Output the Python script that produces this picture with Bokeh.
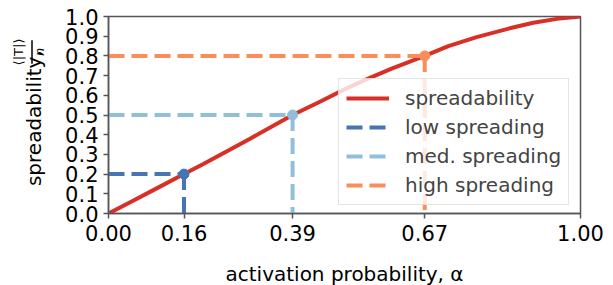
import math
from bokeh.plotting import figure
from bokeh.layouts import row, column
from bokeh.core.properties import value
from bokeh.models import FixedTicker, NumeralTickFormatter, Legend, LegendItem, Range1d
from bokeh.embed import file_html
from bokeh.resources import INLINE

# curve data
alpha = [0.0, 0.05, 0.10, 0.16, 0.20, 0.25, 0.30, 0.39, 0.45, 0.50, 0.55, 0.60, 0.67, 0.72, 0.78, 0.85, 0.90, 0.95, 1.00]
spread = [0.0, 0.062, 0.125, 0.20, 0.25, 0.315, 0.38, 0.50, 0.57, 0.63, 0.685, 0.735, 0.80, 0.85, 0.895, 0.94, 0.968, 0.988, 1.00]

# reference points
levels = ["low spreading", "med. spreading", "high spreading"]
level_alpha = [0.16, 0.39, 0.67]
level_value = [0.2, 0.5, 0.8]
level_colors = ["#4575b4", "#91bfdb", "#fc8d59"]
curve_color = "#d73027"

x_ticks = [0.0, 0.16, 0.39, 0.67, 1.0]
y_ticks = [0.0, 0.1, 0.2, 0.3, 0.4, 0.5, 0.6, 0.7, 0.8, 0.9, 1.0]

y_label_text = "spreadability,"
y_label_num = "⟨|T|⟩"
y_label_den = "n"
x_label_text = "activation probability, α"

FONT = "DejaVu Sans"
TICK_FS = "21px"
LABEL_FS = "20px"
TOP_H = 250      # height of the row holding the plot
BOT_H = 35       # height of the strip holding the x-axis title
LAB_W = 60       # width of the strip holding the y-axis title


def bare(w, h):
    f = figure(output_backend="svg", toolbar_location=None, width=w, height=h,
               x_range=Range1d(0, w), y_range=Range1d(0, h),
               x_axis_location=None, y_axis_location=None,
               min_border=0, min_border_left=0, min_border_right=0,
               min_border_top=0, min_border_bottom=0)
    f.grid.visible = False
    f.outline_line_color = None
    return f


# ---- y-axis title strip (pixel coordinates, y measured from the bottom) ----
lab = bare(LAB_W, TOP_H)
lab.text(x=[33], y=[TOP_H - 129], text=[y_label_text], angle=math.pi / 2,
         text_align="center", text_baseline="middle",
         text_font=value(FONT), text_font_size=LABEL_FS, text_color="black")
lab.text(x=[18], y=[TOP_H - 45], text=[y_label_num], angle=math.pi / 2,
         text_align="center", text_baseline="middle",
         text_font=value(FONT), text_font_size="13px", text_color="black")
lab.text(x=[39], y=[TOP_H - 45], text=[y_label_den], angle=math.pi / 2,
         text_align="center", text_baseline="middle",
         text_font=value(FONT), text_font_size="13px", text_font_style="italic",
         text_color="black")
lab.line(x=[31.5, 31.5], y=[TOP_H - 30, TOP_H - 60], line_color="black", line_width=1.5)

# ---- main plot ----
p = figure(output_backend="svg", toolbar_location=None,
           width=553, height=TOP_H,
           min_border_left=48, min_border_right=33, min_border_top=16, min_border_bottom=37,
           x_range=Range1d(0, 1), y_range=Range1d(0, 1))

p.xgrid.visible = False
p.ygrid.visible = False
p.outline_line_color = "#555555"
p.outline_line_width = 1.5

curve = p.line(alpha, spread, line_color=curve_color, line_width=4)

items = [LegendItem(label="spreadability", renderers=[curve])]
for name, a, v, c in zip(levels, level_alpha, level_value, level_colors):
    h = p.line([0, a], [v, v], line_color=c, line_width=4, line_dash="16 7")
    p.line([a, a], [v, 0], line_color=c, line_width=4, line_dash="16 7")
    p.scatter([a], [v], size=10, color=c)
    items.append(LegendItem(label=name, renderers=[h]))

for ax in (p.xaxis[0], p.yaxis[0]):
    ax.axis_line_color = "#555555"
    ax.axis_line_width = 1.5
    ax.major_tick_line_color = "#555555"
    ax.major_tick_line_width = 1.5
    ax.major_tick_out = 5
    ax.major_tick_in = 0
    ax.minor_tick_line_color = None
    ax.major_label_text_font = FONT
    ax.major_label_text_font_size = TICK_FS
    ax.major_label_text_color = "black"

p.xaxis.ticker = FixedTicker(ticks=x_ticks)
p.xaxis.formatter = NumeralTickFormatter(format="0.00")
p.yaxis.ticker = FixedTicker(ticks=y_ticks)
p.yaxis.formatter = NumeralTickFormatter(format="0.0")
p.xaxis.major_label_standoff = 6
p.yaxis.major_label_standoff = 5

legend = Legend(items=items, location=(230, 8))
legend.label_text_font = FONT
legend.label_text_font_size = LABEL_FS
legend.glyph_width = 43
legend.glyph_height = 20
legend.label_height = 20
legend.spacing = 5
legend.padding = 7
legend.label_standoff = 16
legend.border_line_color = "#cccccc"
legend.border_line_width = 1
legend.background_fill_alpha = 0.8
p.add_layout(legend)

# ---- x-axis title strip ----
xl = bare(LAB_W + 553, BOT_H)
xl.text(x=[344], y=[BOT_H - 23], text=[x_label_text],
        text_align="center", text_baseline="middle",
        text_font=value(FONT), text_font_size=LABEL_FS, text_color="black")

layout = column(row(lab, p, spacing=0), xl, spacing=0)
open("out.html", "w").write(file_html(layout, INLINE))
